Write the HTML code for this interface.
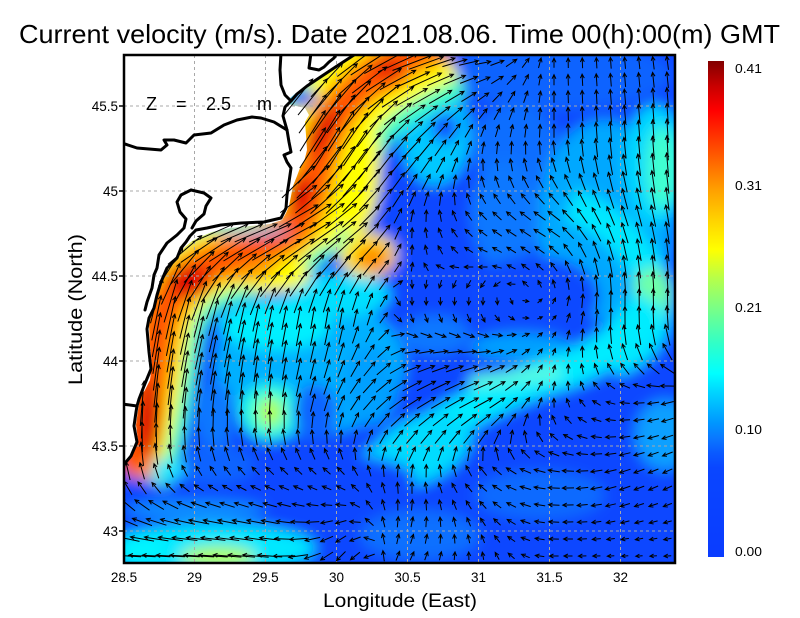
<!DOCTYPE html>
<html><head><meta charset="utf-8"><style>
html,body{margin:0;padding:0;background:#fff;}
svg{display:block;}
text{font-family:"Liberation Sans",sans-serif;fill:#000;}
</style></head><body>
<svg id="root" width="800" height="618" viewBox="0 0 800 618" xmlns="http://www.w3.org/2000/svg" xmlns:xlink="http://www.w3.org/1999/xlink">
<defs>
<filter id="bl" x="-10%" y="-10%" width="120%" height="120%"><feGaussianBlur stdDeviation="7"/></filter>
<clipPath id="pc"><rect x="124" y="55" width="551" height="508"/></clipPath>
<linearGradient id="cb" x1="0" y1="1" x2="0" y2="0">
<stop offset="0" stop-color="#0a3cff"/><stop offset="0.18" stop-color="#0a46ff"/><stop offset="0.21" stop-color="#0a5aff"/>
<stop offset="0.24" stop-color="#0a78ff"/><stop offset="0.27" stop-color="#0096ff"/><stop offset="0.30" stop-color="#00b4ff"/>
<stop offset="0.33" stop-color="#00d2ff"/><stop offset="0.37" stop-color="#00ffff"/><stop offset="0.43" stop-color="#30ffc8"/>
<stop offset="0.50" stop-color="#78ff88"/><stop offset="0.56" stop-color="#b4ff4c"/><stop offset="0.62" stop-color="#ffff00"/>
<stop offset="0.68" stop-color="#ffd200"/><stop offset="0.74" stop-color="#ffa000"/><stop offset="0.80" stop-color="#ff6400"/>
<stop offset="0.86" stop-color="#ff2800"/><stop offset="0.90" stop-color="#ff0000"/><stop offset="0.95" stop-color="#c80000"/>
<stop offset="1" stop-color="#820000"/>
</linearGradient>
<path id="P" fill="none" d="M126,468 C140,440 150,380 156,340 C162,300 180,275 215,262 C248,250 278,245 296,225 C310,205 314,170 324,140 C336,105 362,80 400,60 L440,40"/>
<path id="N" fill="none" d="M296,225 C310,205 314,170 324,140 C336,105 362,80 400,60 L440,40"/>
</defs>

<!-- colour field -->
<g clip-path="url(#pc)">
<g filter="url(#bl)">
<rect x="90" y="30" width="630" height="570" fill="#0a46ff"/>
<ellipse cx="560" cy="75" rx="110" ry="35" fill="#0a64ff"/>
<ellipse cx="515" cy="145" rx="45" ry="40" fill="#0a6eff"/>
<ellipse cx="605" cy="220" rx="68" ry="100" fill="#00a8ff"/>
<ellipse cx="655" cy="165" rx="30" ry="60" fill="#00d8ff"/>
<ellipse cx="662" cy="168" rx="16" ry="42" fill="#40ffd0"/>
<path d="M570,205 C615,220 650,255 654,300 C656,330 642,350 612,360" fill="none" stroke="#00e8ff" stroke-width="34"/>
<ellipse cx="652" cy="295" rx="20" ry="28" fill="#70ffa8"/>
<ellipse cx="505" cy="215" rx="35" ry="55" fill="#0a78ff"/>
<ellipse cx="535" cy="296" rx="64" ry="40" fill="#0a4aff"/>
<ellipse cx="435" cy="255" rx="40" ry="75" fill="#0a46ff"/>
<ellipse cx="435" cy="135" rx="35" ry="50" fill="#00c8ff"/>
<ellipse cx="445" cy="128" rx="13" ry="14" fill="#0a46ff"/>
<ellipse cx="520" cy="347" rx="50" ry="14" fill="#00a0ff"/>
<ellipse cx="435" cy="335" rx="35" ry="20" fill="#0a78ff"/>
<path d="M370,470 C420,440 480,395 560,372 C600,360 630,335 650,300" fill="none" stroke="#00ecff" stroke-width="36"/>
<path d="M470,382 L560,372" fill="none" stroke="#60ffd8" stroke-width="12"/>
<ellipse cx="420" cy="450" rx="55" ry="32" transform="rotate(-25 420 450)" fill="#00dcff"/>
<ellipse cx="420" cy="535" rx="60" ry="25" fill="#0a70ff"/>
<ellipse cx="540" cy="495" rx="65" ry="25" fill="#0a6aff"/>
<ellipse cx="665" cy="435" rx="30" ry="35" fill="#0aa0ff"/>
<ellipse cx="310" cy="365" rx="95" ry="70" fill="#00b0ff"/>
<ellipse cx="275" cy="325" rx="55" ry="25" fill="#00f0ff"/>
<ellipse cx="270" cy="412" rx="30" ry="28" fill="#20ffe0"/>
<ellipse cx="270" cy="412" rx="13" ry="15" fill="#b0ff50"/>
<ellipse cx="215" cy="415" rx="20" ry="35" fill="#0a78ff"/>
<ellipse cx="340" cy="295" rx="50" ry="22" fill="#00e0ff"/>
<ellipse cx="315" cy="412" rx="22" ry="28" fill="#0a64ff"/>
<ellipse cx="370" cy="385" rx="28" ry="40" fill="#00a0ff"/>
<ellipse cx="290" cy="478" rx="125" ry="28" fill="#0a46ff"/>
<ellipse cx="215" cy="465" rx="40" ry="20" fill="#0a64ff"/>
<ellipse cx="195" cy="510" rx="70" ry="10" fill="#0a90ff"/>
<ellipse cx="215" cy="548" rx="100" ry="24" fill="#00e8ff"/>
<ellipse cx="218" cy="557" rx="38" ry="11" fill="#b0ff58"/>
<ellipse cx="140" cy="550" rx="25" ry="18" fill="#00f4ff"/>
<!-- jet -->
<use href="#N" xlink:href="#N" stroke="#40ffc0" stroke-width="120"/>
<use href="#P" xlink:href="#P" stroke="#40ffc0" stroke-width="90"/>
<use href="#N" xlink:href="#N" stroke="#ffff00" stroke-width="84"/>
<use href="#P" xlink:href="#P" stroke="#ffff00" stroke-width="64"/>
<ellipse cx="355" cy="165" rx="25" ry="70" fill="#ffff00"/>
<ellipse cx="270" cy="274" rx="40" ry="18" fill="#ffff00"/>
<ellipse cx="368" cy="255" rx="28" ry="22" fill="#ffee00"/>
<ellipse cx="165" cy="470" rx="20" ry="10" fill="#20e8ff"/>
<use href="#P" xlink:href="#P" stroke="#ffa000" stroke-width="46"/>
<ellipse cx="240" cy="268" rx="35" ry="14" fill="#ffa000"/>
<ellipse cx="372" cy="258" rx="18" ry="14" fill="#ff9000"/>
<ellipse cx="385" cy="75" rx="24" ry="18" fill="#ff7000"/>
<ellipse cx="138" cy="468" rx="16" ry="10" fill="#ff8000"/>
<use href="#P" xlink:href="#P" stroke="#ff5000" stroke-width="24"/>
<ellipse cx="388" cy="68" rx="13" ry="9" fill="#e00000"/>
<ellipse cx="322" cy="130" rx="10" ry="28" transform="rotate(25 322 130)" fill="#e00000"/>
<ellipse cx="300" cy="195" rx="12" ry="20" fill="#e00000"/>
<ellipse cx="190" cy="282" rx="22" ry="16" fill="#e00000"/>
<ellipse cx="150" cy="420" rx="10" ry="40" fill="#d80000"/>
<ellipse cx="302" cy="98" rx="15" ry="9" fill="#0a46ff"/>
<ellipse cx="250" cy="231" rx="40" ry="4" fill="#00c0ff"/>
</g>
</g>

<!-- land / no data -->
<path id="land" fill="#fff" d="M124,55 L352,55 L337,66 L322,76 L307,86 L296,93 L289,99 L288,104 L296,106 L305,108 L309,115 L305,122 L306,135 L307,150 L304,162 L300,168 L297,176 L293,186 L291,196 L289,206 L286,213 L282,220 L270,224 L250,226 L230,228 L212,232 L200,237 L192,241 L185,247 L178,255 L170,265 L164,276 L160,290 L156,300 L152,310 L149,325 L150,345 L152,365 L150,380 L145,390 L140,398 L138,410 L136,425 L138,440 L132,455 L126,462 L124,466 Z"/>

<!-- grid -->
<g stroke="#a8a8a8" stroke-width="1" stroke-dasharray="3,3" fill="none">
<path d="M194.5,55V563M265.5,55V563M336.5,55V563M407.5,55V563M478.5,55V563M549.5,55V563M620.5,55V563"/>
<path d="M124,106H675M124,191H675M124,276H675M124,361H675M124,446H675M124,531H675"/>
</g>

<!-- arrows -->
<g clip-path="url(#pc)"><path id="arr" fill="none" stroke="#000" stroke-width="1" d=""/></g>

<!-- coastlines -->
<g fill="none" stroke="#000" stroke-width="3" stroke-linejoin="round" stroke-linecap="round" clip-path="url(#pc)">
<path d="M354,55 L337,66 L322,76 L307,86 L297,94 L291,101 L285,107 L283,116 L287,130 L289,142 L291,152 L284,155 L287,162 L291,168 L289,182 L287,195 L286,208 L281,218 L264,222 L241,223 L221,225 L207,228 L196,230 L190,236 L186,242 L181,248 L177,258 L167,268 L161,282 L157,295 L154,308 L149,318 L147,329 L149,352 L151,369 L144,386 L139,399 L137,406 L136,412 L134,426 L137,442 L131,456 L126,462 L122,468"/>
<path d="M122,143 L137,148 L161,150 L167,145 L164,140 L174,140 L186,143 L194,135 L211,133 L224,125 L237,120 L252,117 L261,118 L274,122 L287,130"/>
<path d="M281,53 L280,70 L281,85 L285,95 L291,101"/>
<path d="M311,53 L309,68 L319,70 L324,67 L329,62 L334,58 L337,53"/>
<path d="M191,190 L204,193 L211,198 L206,206 L204,214 L196,221 L192,228 M191,190 L181,195 L177,202 L180,212 L186,219 L184,228 L177,235 L167,243 L159,255 L157,268 L154,275 L152,288 L147,302 L145,310"/>
<path d="M122,404 L137,406"/>
</g>

<!-- frame -->
<rect x="124" y="55" width="551" height="508" fill="none" stroke="#000" stroke-width="2.5"/>
<g stroke="#000" stroke-width="1.5">
<path d="M119,106H124M119,191H124M119,276H124M119,361H124M119,446H124M119,531H124"/>
</g>

<g font-size="18" style="fill:#222">
<text x="146" y="110">Z</text>
<text x="176" y="110">=</text>
<text x="206" y="110">2.5</text>
<text x="257" y="110">m</text>
</g>

<!-- title -->
<text x="19" y="43" font-size="26" textLength="761" lengthAdjust="spacingAndGlyphs">Current velocity (m/s). Date 2021.08.06. Time 00(h):00(m) GMT</text>

<!-- y tick labels -->
<g font-size="13.5" text-anchor="end">
<text x="118" y="111">45.5</text>
<text x="118" y="196">45</text>
<text x="118" y="281">44.5</text>
<text x="118" y="366">44</text>
<text x="118" y="451">43.5</text>
<text x="118" y="536">43</text>
</g>
<!-- x tick labels -->
<g font-size="13.5" text-anchor="middle">
<text x="124" y="582">28.5</text>
<text x="194.5" y="582">29</text>
<text x="265.5" y="582">29.5</text>
<text x="336.5" y="582">30</text>
<text x="407.5" y="582">30.5</text>
<text x="478.5" y="582">31</text>
<text x="549.5" y="582">31.5</text>
<text x="620.5" y="582">32</text>
</g>

<text x="323" y="607" font-size="19" textLength="154" lengthAdjust="spacingAndGlyphs">Longitude (East)</text>
<text transform="translate(82,385) rotate(-90)" x="0" y="0" font-size="19" textLength="151" lengthAdjust="spacingAndGlyphs">Latitude (North)</text>

<!-- colorbar -->
<rect x="708" y="61" width="16" height="496" fill="url(#cb)"/>
<g font-size="12.5">
<text x="735" y="73" textLength="27" lengthAdjust="spacingAndGlyphs">0.41</text>
<text x="735" y="190" textLength="27" lengthAdjust="spacingAndGlyphs">0.31</text>
<text x="735" y="312" textLength="27" lengthAdjust="spacingAndGlyphs">0.21</text>
<text x="735" y="434" textLength="27" lengthAdjust="spacingAndGlyphs">0.10</text>
<text x="735" y="556" textLength="27" lengthAdjust="spacingAndGlyphs">0.00</text>
</g>
</svg>
<script>
(function(){
var X=[124,195,266,337,408,479,550,621,692], Y=[55,140,225,310,395,480,565];
var S=[
[0.30,0.30,0.30,0.30,0.30,0.11,0.06,0.07,0.09],
[0.30,0.30,0.30,0.33,0.18,0.08,0.09,0.14,0.18],
[0.30,0.30,0.32,0.27,0.07,0.07,0.10,0.14,0.15],
[0.33,0.28,0.17,0.14,0.05,0.05,0.03,0.16,0.17],
[0.35,0.20,0.16,0.11,0.15,0.15,0.06,0.06,0.10],
[0.10,0.06,0.06,0.06,0.08,0.07,0.08,0.08,0.06],
[0.18,0.22,0.18,0.09,0.06,0.05,0.06,0.04,0.05]];
var A=[
[45,45,45,40,20,5,90,95,100],
[60,60,60,60,45,75,90,95,92],
[70,20,20,35,85,140,150,110,95],
[80,75,78,82,270,275,30,88,92],
[85,82,85,65,30,25,80,170,200],
[110,135,150,150,90,140,175,200,210],
[180,178,175,230,60,90,180,180,180]];
var U=[],V=[];
for(var j=0;j<7;j++){U.push([]);V.push([]);for(var i=0;i<9;i++){var a=A[j][i]*Math.PI/180;U[j].push(S[j][i]*Math.cos(a));V[j].push(S[j][i]*Math.sin(a));}}
function bil(M,i,j,fx,fy){return M[j][i]*(1-fx)*(1-fy)+M[j][i+1]*fx*(1-fy)+M[j+1][i]*(1-fx)*fy+M[j+1][i+1]*fx*fy;}
var landD=document.getElementById('land').getAttribute('d');
var cv=document.createElement('canvas');cv.width=800;cv.height=618;
var ctx=cv.getContext('2d');var lp=new Path2D(landD);
var d=[];
for(var x=128;x<675;x+=14.2){
 for(var y=63;y<563;y+=17){
  if(ctx.isPointInPath(lp,x,y))continue;
  var i=Math.max(0,Math.min(7,Math.floor((x-124)/71))),fx=(x-X[i])/71;
  var j=Math.max(0,Math.min(5,Math.floor((y-55)/85))),fy=(y-Y[j])/85;
  var u=bil(U,i,j,fx,fy),v=bil(V,i,j,fx,fy),s=bil(S,i,j,fx,fy);
  var a=Math.atan2(v,u);
  var L=Math.max(4,150*s);
  var dx=Math.cos(a),dy=-Math.sin(a);
  var tx=x-dx*L/2,ty=y-dy*L/2,hx=x+dx*L/2,hy=y+dy*L/2;
  var h=Math.min(4.5,L*0.6),w=0.45;
  var b=Math.atan2(-dy,-dx);
  var w1x=hx+h*Math.cos(b+w),w1y=hy+h*Math.sin(b+w);
  var w2x=hx+h*Math.cos(b-w),w2y=hy+h*Math.sin(b-w);
  d.push('M'+tx.toFixed(1)+','+ty.toFixed(1)+'L'+hx.toFixed(1)+','+hy.toFixed(1)+'M'+w1x.toFixed(1)+','+w1y.toFixed(1)+'L'+hx.toFixed(1)+','+hy.toFixed(1)+'L'+w2x.toFixed(1)+','+w2y.toFixed(1));
 }
}
document.getElementById('arr').setAttribute('d',d.join(''));
})();
</script>
</body></html>
